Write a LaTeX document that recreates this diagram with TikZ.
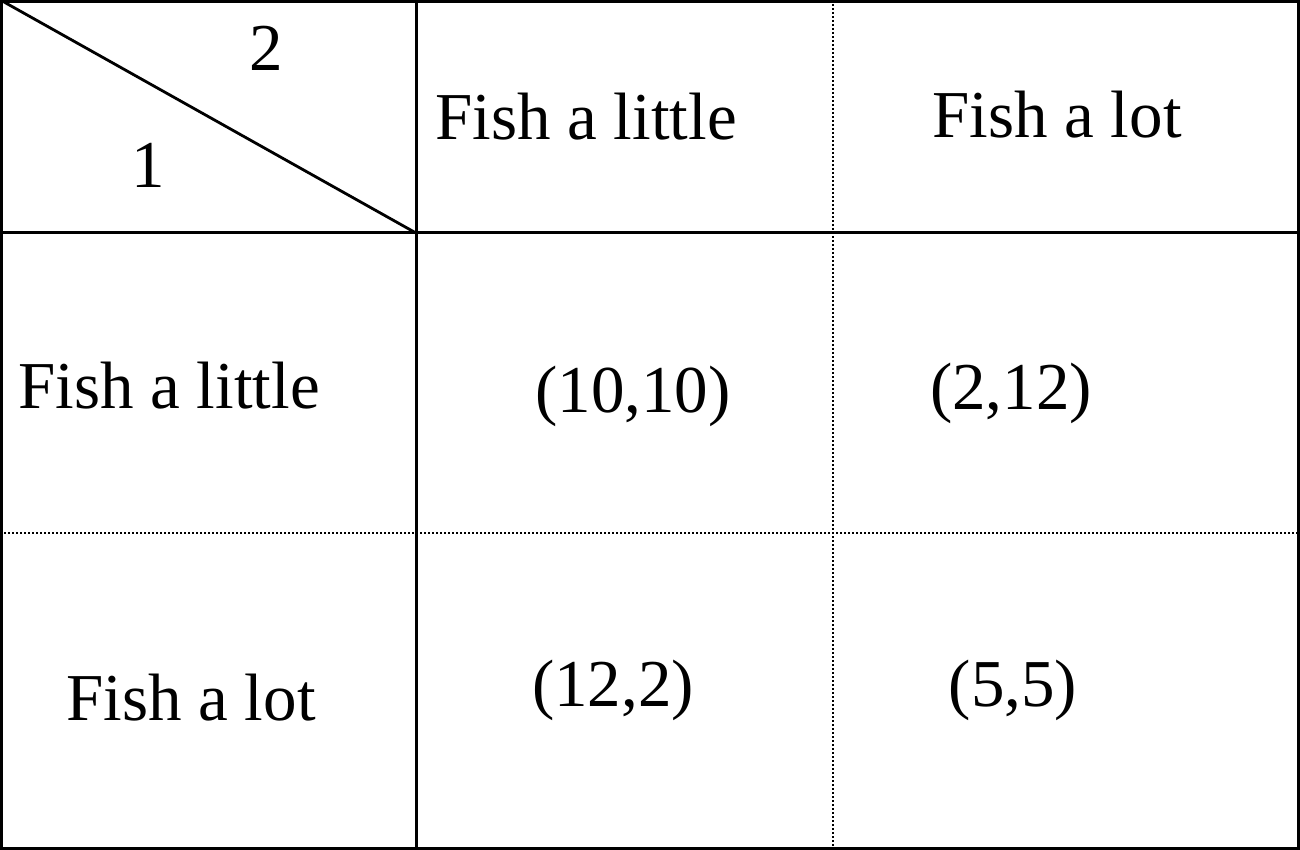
\documentclass[tikz,border=0pt]{standalone}
\usepackage{fontspec}
\setmainfont{Liberation Serif}
\begin{document}
\begin{tikzpicture}[x=1pt,y=-1pt,
  solidline/.style={line width=3pt},
  dotline/.style={line width=1.4pt,dash pattern=on 1.6pt off 2.4pt},
  txt/.style={anchor=base,inner sep=0pt,font=\fontsize{67}{80}\selectfont}]
\useasboundingbox (0,0) rectangle (1300,850);
\fill[white] (0,0) rectangle (1300,850);
% grid
\coordinate (tl) at (1.5,1.5);
\coordinate (br) at (1298.5,848.5);
\draw[solidline] (tl) rectangle (br);
\coordinate (v1t) at (416,0); \coordinate (v1b) at (416,850);
\coordinate (v2t) at (833,0); \coordinate (v2b) at (833,850);
\coordinate (h1l) at (0,233); \coordinate (h1r) at (1300,233);
\coordinate (h2l) at (0,533); \coordinate (h2r) at (1300,533);
\draw[solidline] (v1t) -- (v1b);
\draw[solidline] (h1l) -- (h1r);
\draw[dotline] (v2t) -- (v2b);
\draw[dotline] (h2l) -- (h2r);
\coordinate (d1) at (4,2);
\coordinate (d2) at (416,233);
\draw[line width=2.8pt] (d1) -- (d2);
% texts
\node[txt] (p2) at (266,71) {2};
\node[txt] (p1) at (148,188) {1};
\node[txt] (c1) at (586,140) {Fish a little};
\node[txt] (c2) at (1057,138) {Fish a lot};
\node[txt] (r1) at (169,408) {Fish a little};
\node[txt] (r2) at (191,720) {Fish a lot};
\node[txt] (a11) at (633,412) {(10,10)};
\node[txt] (a12) at (1011,409) {(2,12)};
\node[txt] (a21) at (613,706) {(12,2)};
\node[txt] (a22) at (1013,706) {(5,5)};
\end{tikzpicture}
\end{document}
